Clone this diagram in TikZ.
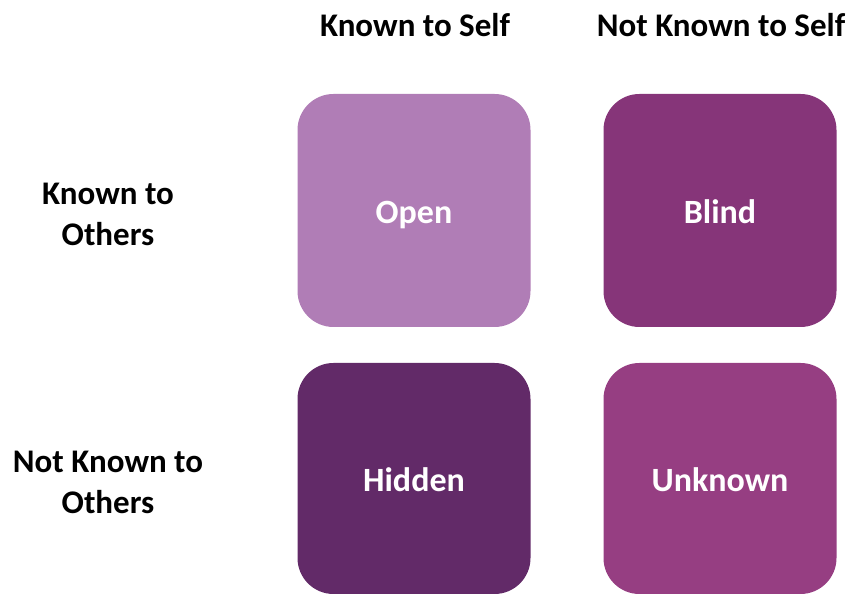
\documentclass[tikz,border=0pt]{standalone}
\usepackage{fontspec}
\setmainfont{Carlito}
\definecolor{openc}{RGB}{176,125,182}
\definecolor{blindc}{RGB}{134,53,121}
\definecolor{hiddenc}{RGB}{98,42,104}
\definecolor{unknownc}{RGB}{150,62,130}
\begin{document}
\begin{tikzpicture}[x=1pt,y=1pt,
  pane/.style={rounded corners=36pt, minimum width=233pt, minimum height=233pt,
    inner sep=0pt, text height=27pt, text depth=0pt, text=white,
    font=\fontsize{34}{40}\selectfont\bfseries},
  head/.style={font=\fontsize{33}{41}\selectfont\bfseries, align=center, inner sep=0pt}]
\useasboundingbox (0,0) rectangle (852,594);
% the four panes of the window
\node[pane, fill=openc]    (open)    at (414,383.5) {Open};
\node[pane, fill=blindc]   (blind)   at (720,383.5) {Blind};
\node[pane, fill=hiddenc, minimum height=231pt]  (hidden)  at (414,115.5) {Hidden};
\node[pane, fill=unknownc, minimum height=231pt] (unknown) at (720,115.5) {Unknown};
% column headings
\node[head] (kself)  at (415,569) {Known to Self};
\node[head] (nkself) at (721,569) {Not Known to Self};
% row headings
\node[head] (kothers)  at (108,380) {Known to\\Others};
\node[head] (nkothers) at (108,112) {Not Known to\\Others};
\end{tikzpicture}
\end{document}
